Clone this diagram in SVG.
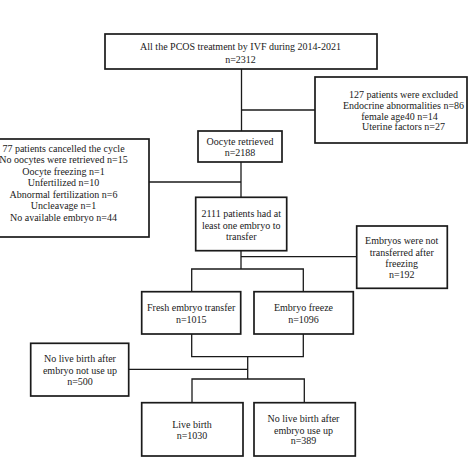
<svg xmlns="http://www.w3.org/2000/svg" width="474" height="474" viewBox="0 0 474 474">
<style>
.box{fill:#fff;stroke:#1a1a1a;stroke-width:1.7}
.ln{fill:none;stroke:#1a1a1a;stroke-width:1.3}
text{font-family:"Liberation Serif","Times New Roman",serif;font-size:10px;fill:#1a1a1a;text-anchor:middle}
</style>
<rect width="474" height="474" fill="#fff"/>
<g id="connectors">
<polyline class="ln" points="241.5,69 241.5,131"/>
<polyline class="ln" points="241.5,110 315,110"/>
<polyline class="ln" points="241,162 241,197.3"/>
<polyline class="ln" points="149,182 241,182"/>
<polyline class="ln" points="241,250.7 241,269"/>
<polyline class="ln" points="241,256.7 356.7,256.7"/>
<polyline class="ln" points="191.7,291.7 191.7,269 303.3,269 303.3,291.7"/>
<polyline class="ln" points="191.7,334 191.7,356.7 303.3,356.7 303.3,334"/>
<polyline class="ln" points="247.7,356.7 247.7,379"/>
<polyline class="ln" points="128.7,369.3 247.7,369.3"/>
<polyline class="ln" points="192,402.7 192,379 304.3,379 304.3,402.7"/>
</g>
<g id="n_all">
<rect class="box" x="105" y="34" width="272" height="35"/>
<text x="240.5" y="50">All the PCOS treatment by IVF during 2014-2021</text>
<text x="240.5" y="62.5">n=2312</text>
</g>
<g id="n_excluded">
<rect class="box" x="315" y="77" width="152" height="66"/>
<text x="403.5" y="97.5">127 patients were excluded</text>
<text x="403.5" y="108.5">Endocrine abnormalities n=86</text>
<text x="399.5" y="119.5">female age40 n=14</text>
<text x="403.5" y="130">Uterine factors n=27</text>
</g>
<g id="n_oocyte">
<rect class="box" x="198" y="131" width="84" height="31"/>
<text x="240" y="145">Oocyte retrieved</text>
<text x="240" y="155.5">n=2188</text>
</g>
<g id="n_cancelled">
<rect class="box" x="-3" y="139" width="152" height="98"/>
<text x="63.5" y="151.8">77 patients cancelled the cycle</text>
<text x="63.5" y="163.4">No oocytes were retrieved n=15</text>
<text x="63.5" y="175">Oocyte freezing n=1</text>
<text x="63.5" y="186.4">Unfertilized n=10</text>
<text x="63.5" y="197.8">Abnormal fertilization n=6</text>
<text x="63.5" y="209.2">Uncleavage n=1</text>
<text x="63.5" y="220.8">No available embryo n=44</text>
</g>
<g id="n_2111">
<rect class="box" x="195.7" y="197.3" width="91" height="53.4"/>
<text x="241.2" y="216.8">2111 patients had at</text>
<text x="241.2" y="228.5">least one embryo to</text>
<text x="241.2" y="239.5">transfer</text>
</g>
<g id="n_notransfer">
<rect class="box" x="356.7" y="226" width="90.6" height="62.3"/>
<text x="401.7" y="244.3">Embryos were not</text>
<text x="401.7" y="255.8">transferred after</text>
<text x="401.7" y="267.3">freezing</text>
<text x="401.7" y="278.2">n=192</text>
</g>
<g id="n_fresh">
<rect class="box" x="141.7" y="291.7" width="99" height="42.3"/>
<text x="191.2" y="311.2">Fresh embryo transfer</text>
<text x="191.2" y="322.5">n=1015</text>
</g>
<g id="n_freeze">
<rect class="box" x="254" y="291.7" width="99.3" height="42.3"/>
<text x="303.5" y="311.2">Embryo freeze</text>
<text x="303.5" y="322.5">n=1096</text>
</g>
<g id="n_notuseup">
<rect class="box" x="30.7" y="343.3" width="98" height="52.7"/>
<text x="80" y="361.8">No live birth after</text>
<text x="80" y="374.2">embryo not use up</text>
<text x="80" y="385.2">n=500</text>
</g>
<g id="n_live">
<rect class="box" x="141.7" y="402.7" width="101.3" height="53.3"/>
<text x="192" y="427.5">Live birth</text>
<text x="192" y="439.2">n=1030</text>
</g>
<g id="n_useup">
<rect class="box" x="254" y="402.7" width="101.3" height="53.3"/>
<text x="303.5" y="421.8">No live birth after</text>
<text x="303.5" y="433.5">embryo use up</text>
<text x="303.5" y="444.2">n=389</text>
</g>
</svg>
